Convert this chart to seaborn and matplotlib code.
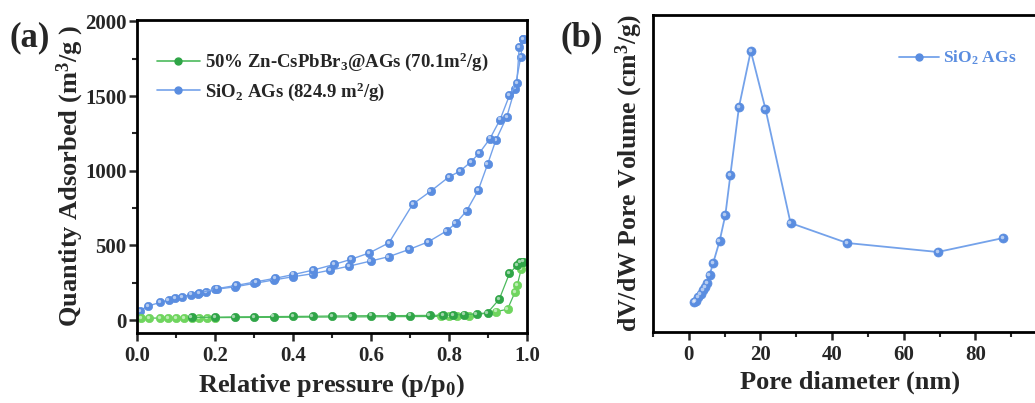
import matplotlib
matplotlib.use('Agg')
import matplotlib.pyplot as plt
import matplotlib.transforms as mtransforms
from matplotlib.lines import Line2D
from matplotlib.ticker import MultipleLocator
import seaborn as sns

# (a) N2 isotherms, relative pressure vs quantity adsorbed
zn_ads_p = [0.01, 0.03, 0.06, 0.08, 0.10, 0.12, 0.14, 0.16, 0.18, 0.20, 0.78, 0.80, 0.82, 0.85,
            0.92, 0.95, 0.969, 0.975, 0.985, 0.99]
zn_ads_q = [12, 13, 13, 14, 14, 14, 15, 15, 15, 16, 24, 25, 25, 27, 56, 72, 185, 234, 339, 390]
zn_des_p = [0.99, 0.982, 0.975, 0.955, 0.929, 0.899, 0.871, 0.838, 0.81, 0.785, 0.75, 0.70,
            0.65, 0.60, 0.55, 0.50, 0.45, 0.40, 0.35, 0.30, 0.25, 0.20, 0.14]
zn_des_q = [392, 390, 368, 312, 140, 49, 40, 36, 34, 32, 31, 30, 29, 29, 28, 27, 25, 24, 23,
            22, 21, 19, 17]

si_ads_p = [0.007, 0.028, 0.06, 0.081, 0.097, 0.115, 0.138, 0.156, 0.178, 0.20, 0.25, 0.30,
            0.35, 0.40, 0.45, 0.495, 0.544, 0.599, 0.645, 0.698, 0.747, 0.794, 0.817, 0.845,
            0.875, 0.899, 0.92, 0.948, 0.969, 0.984, 0.99]
si_ads_q = [62, 94, 118, 134, 145, 156, 170, 176, 187, 205, 222, 245, 268, 290, 310, 334, 361,
            395, 424, 473, 524, 597, 647, 731, 870, 1044, 1204, 1360, 1550, 1762, 1880]
si_des_p = [0.99, 0.98, 0.974, 0.955, 0.931, 0.905, 0.878, 0.856, 0.828, 0.80, 0.753, 0.707,
            0.646, 0.596, 0.548, 0.505, 0.451, 0.40, 0.355, 0.305, 0.255, 0.205, 0.16]
si_des_q = [1880, 1829, 1588, 1505, 1343, 1215, 1119, 1059, 997, 959, 863, 776, 517, 450, 406,
            372, 334, 304, 280, 256, 232, 210, 182]

# (b) pore size distribution (no y scale shown)
pore_d = [1.4, 1.9, 2.6, 3.3, 3.9, 4.5, 5.1, 5.8, 6.8, 8.6, 10.2, 11.6, 14.0, 17.3, 21.4,
          28.4, 44.2, 69.5, 87.8]
pore_v = [0.030, 0.031, 0.035, 0.038, 0.042, 0.045, 0.049, 0.057, 0.069, 0.091, 0.117, 0.157,
          0.225, 0.281, 0.223, 0.109, 0.089, 0.080, 0.094]
pore_ticks = [0, 20, 40, 60, 80]

blue_line = '#74a2ea'
blue_mk = '#5a8de0'
green_line = '#4cba5c'
green_dark = '#2fa547'
green_light = '#6fd55e'

sns.set_style('ticks')
plt.rcParams['font.family'] = ['Liberation Serif', 'DejaVu Serif']
plt.rcParams['font.weight'] = 'bold'
plt.rcParams['axes.labelweight'] = 'bold'
plt.rcParams['mathtext.fontset'] = 'custom'
plt.rcParams['mathtext.rm'] = 'Liberation Serif:bold'
plt.rcParams['mathtext.it'] = 'Liberation Serif:bold'
plt.rcParams['mathtext.bf'] = 'Liberation Serif:bold'

fig = plt.figure(figsize=(10.35, 4.03), dpi=100)
ax1 = fig.add_axes([137 / 1035, 70 / 403, 390 / 1035, 313 / 403])
ax2 = fig.add_axes([653 / 1035, 71 / 403, 394 / 1035, 317 / 403])


def balls(ax, x, y, line, face, ms=6, lw=1.0):
	sns.lineplot(x=x, y=y, ax=ax, sort=False, estimator=None, color=line, lw=lw,
		marker='o', markersize=ms, markerfacecolor=face, markeredgecolor=face,
		markeredgewidth=0.5)
	# small highlight to mimic shaded spheres
	shine = mtransforms.offset_copy(ax.transData, fig=fig, x=-1.2, y=1.2, units='dots')
	ax.plot(x, y, ls='none', marker='o', ms=ms * 0.4, mfc='white', mec='none',
		alpha=0.55, transform=shine)


balls(ax1, si_ads_p, si_ads_q, blue_line, blue_mk)
balls(ax1, si_des_p, si_des_q, blue_line, blue_mk)
balls(ax1, zn_ads_p, zn_ads_q, green_line, green_light, lw=0.9)
balls(ax1, zn_des_p, zn_des_q, green_line, green_dark, lw=0.9)

ax1.set_xlim(0, 1.0)
ax1.set_ylim(-87, 2010)
ax1.xaxis.set_major_locator(MultipleLocator(0.2))
ax1.xaxis.set_minor_locator(MultipleLocator(0.1))
ax1.yaxis.set_major_locator(MultipleLocator(500))
ax1.yaxis.set_minor_locator(MultipleLocator(250))
ax1.set_xlabel('Relative pressure (p/p$_0$)', fontsize=19, labelpad=4)
ax1.set_ylabel('Quantity Adsorbed (m$^3$/g )', fontsize=19)
ax1.yaxis.set_label_coords(-0.132, 0.5)

handles = [
	Line2D([], [], color=green_line, lw=1.2, marker='o', ms=5, mfc=green_dark, mec=green_dark),
	Line2D([], [], color=blue_line, lw=1.2, marker='o', ms=5, mfc=blue_mk, mec=blue_mk),
]
ax1.legend(handles, ['50% Zn-CsPbBr$_3$@AGs (70.1m$^2$/g)', 'SiO$_2$ AGs (824.9 m$^2$/g)'],
	loc='upper left', bbox_to_anchor=(0.007, 0.955), frameon=False,
	handlelength=2.3, handletextpad=0.3, labelspacing=0.35, prop={'weight': 'bold', 'size': 13.5})

balls(ax2, pore_d, pore_v, blue_line, blue_mk, ms=6.5, lw=1.3)
ax2.set_xlim(-10, 100)
ax2.set_ylim(0, 0.317)
ax2.set_xticks(pore_ticks)
ax2.xaxis.set_minor_locator(MultipleLocator(10))
ax2.set_yticks([])
ax2.set_xlabel('Pore diameter (nm)', fontsize=19, labelpad=4)
ax2.set_ylabel('dV/dW Pore Volume (cm$^3$/g)', fontsize=18.5, labelpad=6)
leg2 = ax2.legend([Line2D([], [], color=blue_line, lw=1.3, marker='o', ms=5, mfc=blue_mk, mec=blue_mk)],
	['SiO$_2$ AGs'], loc='upper left', bbox_to_anchor=(0.585, 0.943), frameon=False,
	handlelength=2.3, handletextpad=0.2, prop={'weight': 'bold', 'size': 12.5})
for t in leg2.get_texts():
	t.set_color(blue_mk)

for ax in (ax1, ax2):
	for s in ax.spines.values():
		s.set_linewidth(2.0)
		s.set_color('black')
	ax.tick_params(which='major', direction='out', length=6, width=1.8, labelsize=15,
		top=False, right=False)
	ax.tick_params(which='minor', direction='out', length=3.5, width=1.5,
		top=False, right=False)
	for lab in ax.get_xticklabels() + ax.get_yticklabels():
		lab.set_fontweight('bold')
ax1.tick_params(axis='y', which='major', pad=1.5)

fig.text(30 / 1035, 1 - 38 / 403, '(a)', fontsize=25, fontweight='bold', ha='center', va='center')
fig.text(582 / 1035, 1 - 38 / 403, '(b)', fontsize=25, fontweight='bold', ha='center', va='center')

fig.savefig('out.png', dpi=100)
